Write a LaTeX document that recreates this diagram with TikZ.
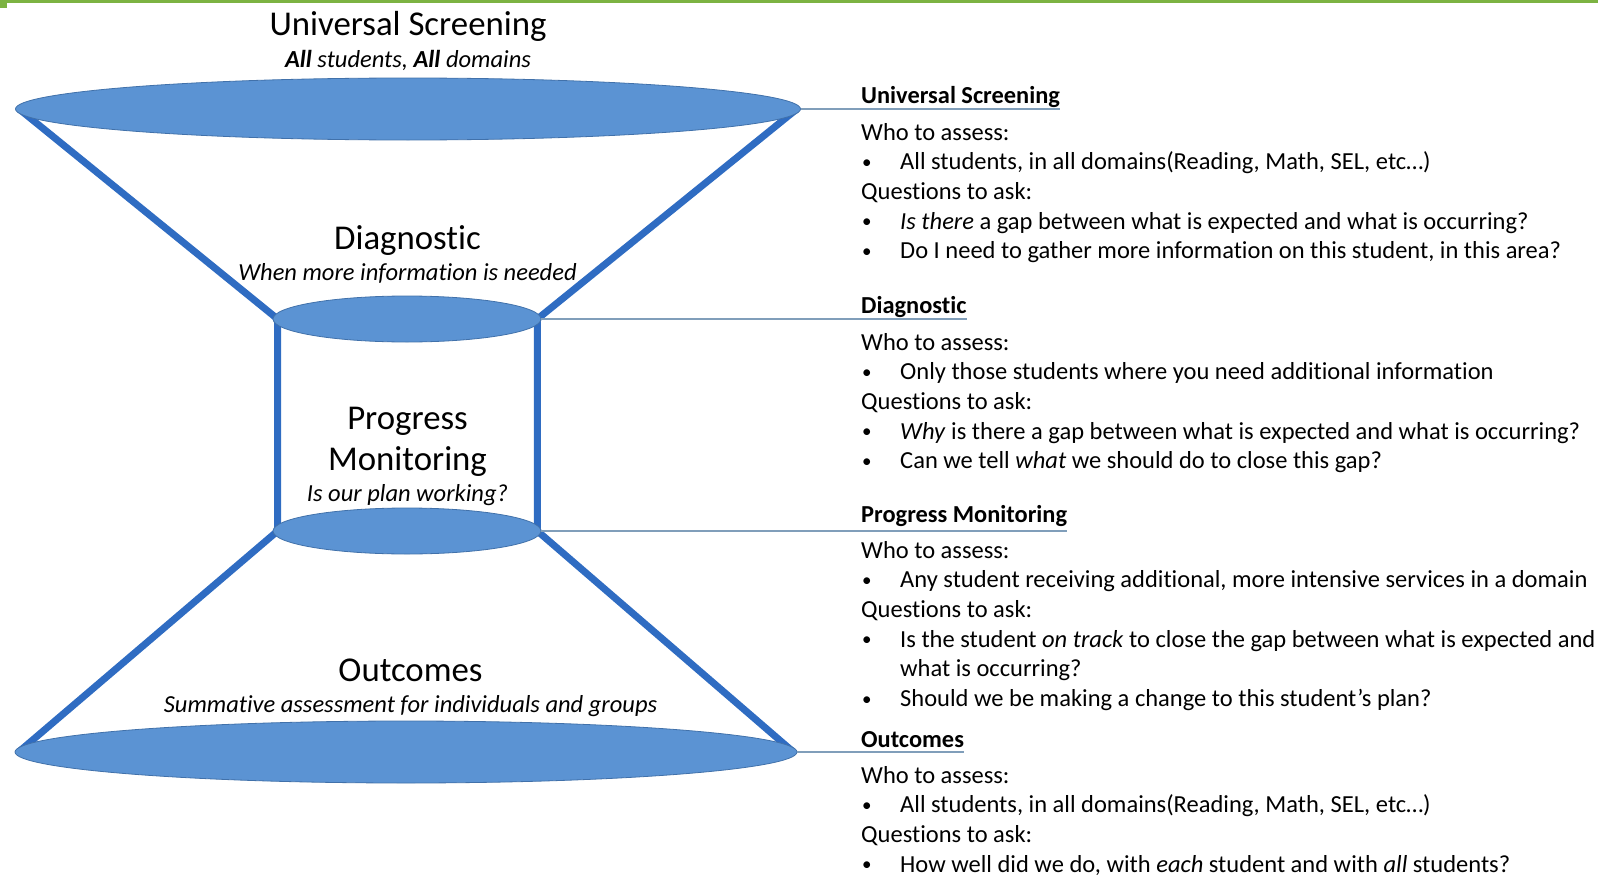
\documentclass[tikz,border=0pt]{standalone}
\usepackage{fontspec}
\setmainfont{Carlito}[Ligatures=NoCommon]
\usetikzlibrary{shapes.geometric, positioning, backgrounds}
\definecolor{bargreen}{RGB}{124,179,66}
\definecolor{discblue}{RGB}{91,147,211}
\definecolor{rimblue}{RGB}{65,113,170}
\definecolor{funnelblue}{RGB}{47,108,194}
\definecolor{linkgrey}{RGB}{128,158,186}
\tikzset{
    disc/.style={ellipse, draw=rimblue, line width=0.8pt, fill=discblue, inner sep=0pt},
    funnel/.style={draw=funnelblue, line width=7pt},
    link/.style={draw=linkgrey, line width=1.6pt},
    stage/.style={font=\fontsize{34.8}{40}\selectfont, inner sep=0pt, anchor=base},
    tagline/.style={font=\fontsize{24.5}{29}\selectfont\itshape, inner sep=0pt, anchor=base},
    head/.style={font=\fontsize{24.4}{28}\selectfont\bfseries, inner sep=0pt, anchor=south west, yshift=1.5pt},
    body/.style={font=\fontsize{24.5}{29.6}\selectfont, align=left, inner sep=0pt, anchor=north west},
}
\newcommand{\bul}{\makebox[39pt][l]{\hspace{1pt}\raisebox{1.2pt}{\fontsize{19}{0}\selectfont\textbullet}}}
\newcommand{\gap}{\hspace*{39pt}}

\begin{document}
\begin{tikzpicture}[x=1pt, y=-1pt]
    \useasboundingbox (0,0) rectangle (1598,875);
    % green edge at the top
    \fill[bargreen] (0,0) rectangle (1598,3);
    \fill[bargreen] (0,0) rectangle (7,8);

    % the four discs
    \node[disc, minimum width=785pt, minimum height=62pt] (top) at (408,109) {};
    \node[disc, minimum width=268pt, minimum height=46pt] (diag) at (407,319) {};
    \node[disc, minimum width=268pt, minimum height=46pt] (prog) at (407,531) {};
    \node[disc, minimum width=782pt, minimum height=62pt] (out) at (406,752) {};

    \begin{scope}[on background layer]
        \draw[funnel] ([xshift=4pt]top.west) -- ([xshift=5pt]diag.west)
            -- ([xshift=5pt]prog.west) -- ([xshift=4pt]out.west);
        \draw[funnel] ([xshift=-4pt]top.east) -- ([xshift=-4pt]diag.east)
            -- ([xshift=-4pt]prog.east) -- ([xshift=-4pt]out.east);
    \end{scope}

    % labels in the funnel
    \node[stage] (ustitle) at (408,36) {Universal Screening};
    \node[tagline] (ussub) at (408,67) {\textbf{All} students, \textbf{All} domains};
    \node[stage] (diagtitle) at (407.5,249) {Diagnostic};
    \node[tagline] (diagsub) at (407.5,280) {When more information is needed};
    \node[stage] (progtitle) at (407.5,429.5) {Progress};
    \node[stage] (progtitle2) at (407.5,470) {Monitoring};
    \node[tagline] (progsub) at (407.5,501) {Is our plan working?};
    \node[stage] (outtitle) at (410.5,681) {Outcomes};
    \node[tagline] (outsub) at (410.5,712) {Summative assessment for individuals and groups};

    % right column
    \coordinate (rcol) at (861,0);
    \node[head] (ushd) at (top.east -| rcol) {Universal Screening};
    \node[head] (diaghd) at (diag.east -| rcol) {Diagnostic};
    \node[head, yshift=3pt] (proghd) at (prog.east -| rcol) {Progress Monitoring};
    \node[head, yshift=3pt] (outhd) at (out.east -| rcol) {Outcomes};

    \draw[link] (top.east) -- (top.east -| ushd.east);
    \draw[link] (diag.east) -- (diag.east -| diaghd.east);
    \draw[link] (prog.east) -- (prog.east -| proghd.east);
    \draw[link] (out.east) -- (out.east -| outhd.east);

    \node[body] (usbody) at ([yshift=-14pt]top.east -| rcol) {%
        Who to assess:\\
        \bul All students, in all domains(Reading, Math, SEL, etc…)\\
        Questions to ask:\\
        \bul \textit{Is there} a gap between what is expected and what is occurring?\\
        \bul Do I need to gather more information on this student, in this area?};
    \node[body] (diagbody) at ([yshift=-14pt]diag.east -| rcol) {%
        Who to assess:\\
        \bul Only those students where you need additional information\\
        Questions to ask:\\
        \bul \textit{Why} is there a gap between what is expected and what is occurring?\\
        \bul Can we tell \textit{what} we should do to close this gap?};
    \node[body] (progbody) at ([yshift=-10pt]prog.east -| rcol) {%
        Who to assess:\\
        \bul Any student receiving additional, more intensive services in a domain\\
        Questions to ask:\\
        \bul Is the student \textit{on track} to close the gap between what is expected and\\
        \gap what is occurring?\\
        \bul Should we be making a change to this student’s plan?};
    \node[body] (outbody) at ([yshift=-14pt]out.east -| rcol) {%
        Who to assess:\\
        \bul All students, in all domains(Reading, Math, SEL, etc…)\\
        Questions to ask:\\
        \bul How well did we do, with \textit{each} student and with \textit{all} students?};
\end{tikzpicture}
\end{document}
